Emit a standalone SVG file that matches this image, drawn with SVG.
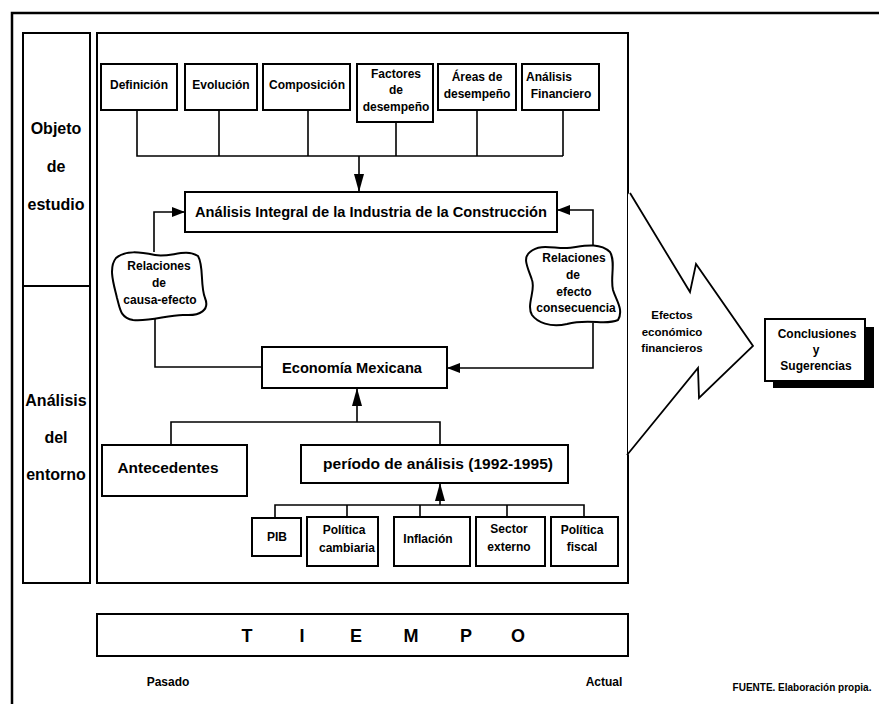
<svg xmlns="http://www.w3.org/2000/svg" width="879" height="704" viewBox="0 0 879 704">
<style>
.box{fill:#fff;stroke:#000;stroke-width:2}
.ln{fill:none;stroke:#000;stroke-width:1.6}
.t{font-family:"Liberation Sans",Arial,sans-serif;font-weight:bold;text-anchor:middle;dominant-baseline:central;fill:#000}
.s12{font-size:12px}
.s15{font-size:15px}
.s16{font-size:16px}
</style>
<defs>
<marker id="al" markerWidth="18" markerHeight="10" refX="18" refY="5" orient="auto" markerUnits="userSpaceOnUse"><path d="M0,0 L18,5 L0,10 Z" fill="#000"/></marker>
<marker id="as" markerWidth="13" markerHeight="10" refX="13" refY="5" orient="auto" markerUnits="userSpaceOnUse"><path d="M0,0 L13,5 L0,10 Z" fill="#000"/></marker>
</defs>
<rect width="879" height="704" fill="#fff"/>
<g id="frame">
<path d="M12,704 L12,13 L879,13" fill="none" stroke="#000" stroke-width="2.5"/>
</g>
<g id="left-column">
<rect class="box" x="23" y="33" width="67" height="550"/>
<line class="ln" x1="23" y1="286" x2="90" y2="286" style="stroke-width:2"/>
<text class="t s16" x="56" y="128">Objeto</text>
<text class="t s16" x="56" y="166">de</text>
<text class="t s16" x="56" y="204">estudio</text>
<text class="t s16" x="56" y="400">Análisis</text>
<text class="t s16" x="56" y="437">del</text>
<text class="t s16" x="56" y="474">entorno</text>
</g>
<g id="main-frame">
<rect class="box" x="97" y="33" width="531" height="550"/>
</g>
<g id="big-arrow">
<polygon points="628,193 690,292 696,264 753,346 699,398 698,368 628,455" fill="#fff" stroke="none"/>
<polyline points="630,193 690,292 696,264 753,346 699,398 698,368 627,455" fill="none" stroke="#000" stroke-width="1.8"/>
<text class="t" style="font-size:11.5px" x="672" y="315">Efectos</text>
<text class="t" style="font-size:11.5px" x="672" y="332">económico</text>
<text class="t" style="font-size:11.5px" x="672" y="348">financieros</text>
</g>
<g id="connectors">
<polyline class="ln" points="137,110 137,156 563,156"/>
<line class="ln" x1="219" y1="110" x2="219" y2="156"/>
<line class="ln" x1="308" y1="110" x2="308" y2="156"/>
<line class="ln" x1="396" y1="122" x2="396" y2="156"/>
<line class="ln" x1="477" y1="110" x2="477" y2="156"/>
<line class="ln" x1="563" y1="110" x2="563" y2="156"/>
<line class="ln" x1="359" y1="156" x2="359" y2="192" marker-end="url(#al)"/>
<polyline class="ln" points="154,252 154,212 185,212" marker-end="url(#as)"/>
<polyline class="ln" points="155,319 155,367 262,367"/>
<polyline class="ln" points="593,246 593,210 557,210" marker-end="url(#as)"/>
<polyline class="ln" points="593,323 593,368 447,368" marker-end="url(#as)"/>
<line class="ln" x1="357" y1="422" x2="357" y2="388" marker-end="url(#al)"/>
<polyline class="ln" points="171,445 171,422 440,422 440,445"/>
<line class="ln" x1="440" y1="505" x2="440" y2="483" marker-end="url(#al)"/>
<polyline class="ln" points="275,518 275,505 584,505 584,517"/>
<line class="ln" x1="347" y1="505" x2="347" y2="517"/>
<line class="ln" x1="420" y1="505" x2="420" y2="517"/>
<line class="ln" x1="507" y1="505" x2="507" y2="517"/>
</g>
<g id="n-definicion"><rect class="box" x="101" y="64" width="76" height="46"/><text class="t s12" x="139" y="85">Definición</text></g>
<g id="n-evolucion"><rect class="box" x="185" y="64" width="72" height="46"/><text class="t s12" x="221" y="85">Evolución</text></g>
<g id="n-composicion"><rect class="box" x="263" y="64" width="87" height="46"/><text class="t s12" x="307" y="85">Composición</text></g>
<g id="n-factores"><rect class="box" x="357" y="64" width="76" height="58"/><text class="t s12" x="396" y="74">Factores</text><text class="t s12" x="396" y="90">de</text><text class="t s12" x="396" y="107">desempeño</text></g>
<g id="n-areas"><rect class="box" x="438" y="64" width="78" height="46"/><text class="t s12" x="477" y="77">Áreas de</text><text class="t s12" x="477" y="94">desempeño</text></g>
<g id="n-financiero"><rect class="box" x="522" y="64" width="77" height="46"/><text class="t s12" x="549" y="77">Análisis</text><text class="t s12" x="561" y="94">Financiero</text></g>
<g id="n-integral"><rect class="box" x="185" y="192" width="372" height="40"/><text class="t s15" x="371" y="211" textLength="352" lengthAdjust="spacingAndGlyphs">Análisis Integral de la Industria de la Construcción</text></g>
<g id="n-causa-efecto"><path class="box" d="M116,258 C125,250 140,252 155,255 C170,258 185,248 198,256 C204,266 200,285 205,298 C210,310 200,316 185,315 C170,314 150,322 133,320 C120,318 120,308 117,298 C114,285 108,268 116,258 Z"/><text class="t s12" x="159" y="266">Relaciones</text><text class="t s12" x="159" y="283">de</text><text class="t s12" x="160" y="300">causa-efecto</text></g>
<g id="n-efecto-consecuencia"><path class="box" d="M530,252 C540,243 555,249 567,248 C580,247 598,241 610,252 C616,262 610,278 613,290 C616,300 624,310 618,320 C605,326 590,318 567,324 C550,328 537,322 532,315 C526,305 536,290 532,280 C528,268 522,258 530,252 Z"/><text class="t s12" x="574" y="258">Relaciones</text><text class="t s12" x="573" y="275">de</text><text class="t s12" x="574" y="292">efecto</text><text class="t s12" x="576" y="308">consecuencia</text></g>
<g id="n-economia"><rect class="box" x="262" y="347" width="185" height="41"/><text class="t s15" x="352" y="367" textLength="140" lengthAdjust="spacingAndGlyphs">Economía Mexicana</text></g>
<g id="n-antecedentes"><rect class="box" x="102" y="445" width="145" height="51"/><text class="t s15" x="168" y="467" textLength="101" lengthAdjust="spacingAndGlyphs">Antecedentes</text></g>
<g id="n-periodo"><rect class="box" x="301" y="445" width="267" height="38"/><text class="t s15" x="438" y="463" textLength="230" lengthAdjust="spacingAndGlyphs">período de análisis (1992-1995)</text></g>
<g id="n-pib"><rect class="box" x="252" y="518" width="49" height="38"/><text class="t s12" x="277" y="537">PIB</text></g>
<g id="n-cambiaria"><rect class="box" x="307" y="517" width="71" height="49"/><text class="t s12" x="344" y="530">Política</text><text class="t s12" x="347" y="548">cambiaria</text></g>
<g id="n-inflacion"><rect class="box" x="394" y="517" width="76" height="49"/><text class="t s12" x="428" y="539">Inflación</text></g>
<g id="n-sector"><rect class="box" x="476" y="517" width="69" height="49"/><text class="t s12" x="509" y="529">Sector</text><text class="t s12" x="509" y="547">externo</text></g>
<g id="n-fiscal"><rect class="box" x="551" y="517" width="67" height="49"/><text class="t s12" x="582" y="530">Política</text><text class="t s12" x="582" y="547">fiscal</text></g>
<g id="n-conclusiones"><rect x="773" y="327" width="101" height="61" fill="#000"/><rect class="box" x="765" y="319" width="100" height="62"/><text class="t s12" x="817" y="334">Conclusiones</text><text class="t s12" x="816" y="350">y</text><text class="t s12" x="816" y="366">Sugerencias</text></g>
<g id="n-tiempo"><rect class="box" x="97" y="614" width="531" height="42"/><text class="t" style="font-size:18px" x="247 302 356 411 466 518" y="636">TIEMPO</text></g>
<g id="labels">
<text class="t s12" x="168" y="682">Pasado</text>
<text class="t s12" x="604" y="682">Actual</text>
<text class="t" style="font-size:10px" x="802" y="687">FUENTE. Elaboración propia.</text>
</g>
</svg>
